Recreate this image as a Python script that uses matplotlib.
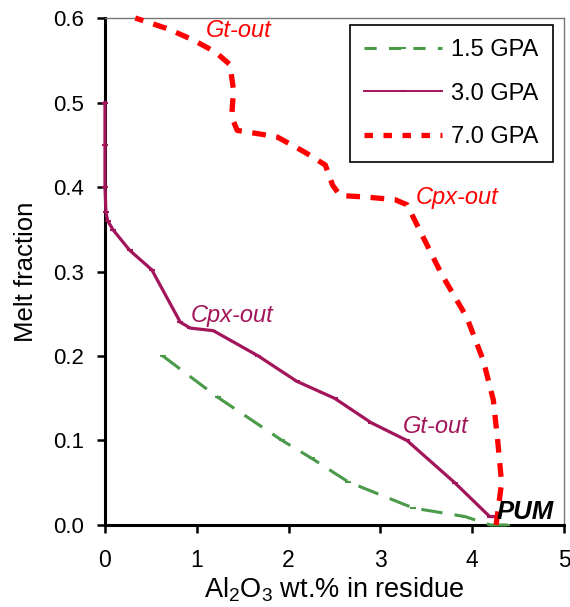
import matplotlib
matplotlib.use("Agg")
import matplotlib.pyplot as plt
from matplotlib.lines import Line2D
from matplotlib.ticker import MultipleLocator, FormatStrFormatter

plt.rcParams['font.family'] = ['Liberation Sans', 'DejaVu Sans']
plt.rcParams['mathtext.fontset'] = 'custom'
plt.rcParams['mathtext.rm'] = 'Liberation Sans'

# 1.5 GPa
x15 = [0.63, 1.23, 1.93, 2.25, 2.65, 3.36, 3.92, 4.2, 4.38]
y15 = [0.20, 0.151, 0.10, 0.079, 0.051, 0.02, 0.01, 0.0, 0.0]
# 3.0 GPa
x30 = [0.0, 0.0, 0.0, 0.01, 0.03, 0.09, 0.27, 0.51, 0.82, 0.93, 1.18, 1.67, 2.09, 2.5, 2.9, 3.29, 3.81, 4.19, 4.25]
y30 = [0.50, 0.45, 0.40, 0.37, 0.36, 0.349, 0.325, 0.302, 0.240, 0.233, 0.230, 0.200, 0.170, 0.150, 0.121, 0.100, 0.050, 0.010, 0.010]
# 7.0 GPa
x70 = [4.26, 4.32, 4.28, 4.23, 4.12, 3.94, 3.67, 3.29, 3.16, 2.86, 2.56, 2.48, 2.40, 2.18, 1.88,
       1.73, 1.44, 1.38, 1.40, 1.36, 1.20, 0.96, 0.69, 0.33]
y70 = [0.0, 0.05, 0.097, 0.148, 0.195, 0.246, 0.296, 0.379, 0.385, 0.388, 0.39, 0.402, 0.426, 0.441, 0.459,
       0.462, 0.467, 0.483, 0.515, 0.545, 0.56, 0.574, 0.587, 0.60]

labels = ["1.5 GPA", "3.0 GPA", "7.0 GPA"]

c15, c30, c70 = '#4a9a4a', '#a3155a', '#ff0000'

fig = plt.figure(figsize=(5.7, 6.07), dpi=100)
ax = fig.add_axes([0.1842, 0.1351, 0.8053, 0.8352])

ax.plot(x15, y15, color=c15, lw=2.2, dashes=(7, 4), marker='_', ms=4, mew=1.5,
        zorder=3, clip_on=False)
ax.plot(x30, y30, color=c30, lw=2.3, marker='_', ms=4, mew=1.5, zorder=3, clip_on=False)
ax.plot(x70, y70, color=c70, lw=3.8, dashes=(2.6, 2.0), zorder=3, clip_on=False)

ax.set_xlim(0, 5)
ax.set_ylim(0, 0.6)
ax.xaxis.set_major_locator(MultipleLocator(1))
ax.yaxis.set_major_locator(MultipleLocator(0.1))
ax.yaxis.set_major_formatter(FormatStrFormatter('%.1f'))

for s in ['left', 'bottom']:
    ax.spines[s].set_linewidth(2.2)
    ax.spines[s].set_color('black')
for s in ['top', 'right']:
    ax.spines[s].set_linewidth(1.0)
    ax.spines[s].set_color('#777777')

ax.tick_params(axis='both', direction='out', length=6, width=1.8, color='black')
ax.tick_params(axis='y', labelsize=16, pad=9)
ax.tick_params(axis='x', labelsize=16.5, pad=11)

ax.set_xlabel(r'Al$_2$O$_3$ wt.% in residue', fontsize=19.5, labelpad=3)
ax.set_ylabel('Melt fraction', fontsize=18.5, labelpad=11)

ax.text(1.1, 0.585, 'Gt-out', color=c70, style='italic', fontsize=17, va='center')
ax.text(3.38, 0.388, 'Cpx-out', color=c70, style='italic', fontsize=17, va='center')
ax.text(0.93, 0.248, 'Cpx-out', color=c30, style='italic', fontsize=17, va='center')
ax.text(3.24, 0.117, 'Gt-out', color=c30, style='italic', fontsize=17, va='center')
ax.text(4.27, 0.015, 'PUM', color='black', style='italic', weight='bold', fontsize=18.5,
        va='center', zorder=4)

handles = [
    Line2D([], [], color=c15, lw=2.2, dashes=(4, 4), marker='_', ms=4, mew=1.5),
    Line2D([], [], color=c30, lw=1.4, marker='_', ms=4, mew=1.5),
    Line2D([], [], color=c70, lw=3.8, dashes=(1.6, 2.0)),
]
leg = ax.legend(handles, labels, loc='upper right', bbox_to_anchor=(0.976, 0.986),
                borderaxespad=0, fontsize=17, frameon=True, fancybox=False,
                edgecolor='black', framealpha=1, handlelength=3.3, labelspacing=0.9,
                borderpad=0.6, handletextpad=0.4)
leg.get_frame().set_linewidth(1.2)

fig.savefig('out.png', dpi=100)
